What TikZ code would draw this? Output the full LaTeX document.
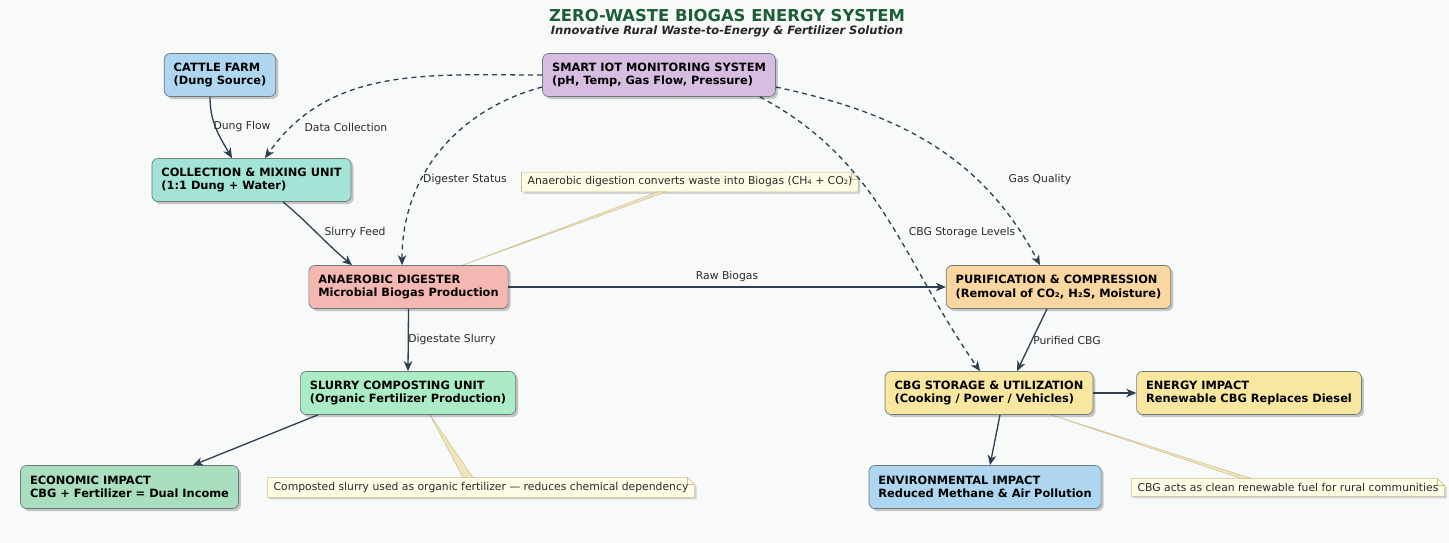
\documentclass[tikz,border=0pt]{standalone}
\usepackage{fontspec}
\setmainfont{DejaVu Sans}
\usetikzlibrary{arrows.meta,shadows,backgrounds}

\definecolor{pagebg}{HTML}{F8FAFA}
\definecolor{titlegreen}{HTML}{1D5E36}
\definecolor{edgecol}{HTML}{2C3E50}
\definecolor{boxline}{HTML}{6E7B7C}
\definecolor{labeltext}{HTML}{2B2B2B}
\definecolor{notefill}{HTML}{FFFCE6}
\definecolor{noteline}{HTML}{CDBE8C}
\definecolor{wedgecol}{HTML}{EFE6BE}
\definecolor{farmblue}{HTML}{AED6F1}
\definecolor{iotpurple}{HTML}{D7BDE2}
\definecolor{mixteal}{HTML}{A3E4D7}
\definecolor{digred}{HTML}{F5B7B1}
\definecolor{purorange}{HTML}{FAD7A0}
\definecolor{slurrygreen}{HTML}{ABEBC6}
\definecolor{cbgyellow}{HTML}{F9E79F}
\definecolor{econgreen}{HTML}{A9DFBF}

\tikzset{
  box/.style={draw=boxline, line width=0.7pt, rounded corners=6pt, align=left,
    font=\bfseries\fontsize{11.4}{13.5}\selectfont, inner xsep=9.5pt, inner ysep=6pt,
    minimum height=43pt,
    drop shadow={shadow xshift=2.5pt, shadow yshift=-2.5pt, opacity=0.3, fill=black!70}},
  flow/.style={draw=edgecol, line width=1.3pt, -{Stealth[length=10pt,width=8.5pt,inset=3pt]}},
  monitor/.style={flow, dash pattern=on 5pt off 4pt},
  lbl/.style={font=\fontsize{10.8}{12}\selectfont, text=labeltext, inner sep=1pt},
  note/.style={font=\fontsize{10.8}{12}\selectfont, text=labeltext, inner xsep=6pt, inner ysep=4.5pt},
  notepath/.style={fill=notefill, draw=noteline, line width=0.6pt,
    drop shadow={shadow xshift=2pt, shadow yshift=-2pt, opacity=0.25, fill=black!60}},
  wedge/.style={fill=wedgecol, draw=noteline, line width=0.5pt}
}

% note outline with folded corner
\newcommand{\drawnote}[1]{%
  \path[notepath] (#1.south west) -- (#1.south east) -- ([yshift=-7pt]#1.north east)
    -- ([xshift=-7pt]#1.north east) -- (#1.north west) -- cycle;
  \draw[noteline, line width=0.6pt] ([xshift=-7pt]#1.north east) |- ([yshift=-7pt]#1.north east);}

\begin{document}
\begin{tikzpicture}[x=1pt, y=-1pt]

% title
\node[font=\bfseries\fontsize{16.4}{18}\selectfont, text=titlegreen] (title) at (727,16) {ZERO-WASTE BIOGAS ENERGY SYSTEM};
\node[font=\bfseries\itshape\fontsize{11.5}{13}\selectfont, text=black!85] (subtitle) at (727,31) {Innovative Rural Waste-to-Energy \& Fertilizer Solution};

% units
\node[box, fill=farmblue] (farm) at (220,75) {CATTLE FARM\\(Dung Source)};
\node[box, fill=iotpurple] (iot) at (659,75) {SMART IOT MONITORING SYSTEM\\(pH, Temp, Gas Flow, Pressure)};
\node[box, fill=mixteal] (mix) at (251.5,180) {COLLECTION \& MIXING UNIT\\(1:1 Dung + Water)};
\node[box, fill=digred] (dig) at (408.5,287) {ANAEROBIC DIGESTER\\Microbial Biogas Production};
\node[box, fill=purorange] (pur) at (1058.5,287) {PURIFICATION \& COMPRESSION\\(Removal of CO₂, H₂S, Moisture)};
\node[box, fill=slurrygreen] (slurry) at (408,393) {SLURRY COMPOSTING UNIT\\(Organic Fertilizer Production)};
\node[box, fill=cbgyellow] (cbg) at (989,393) {CBG STORAGE \& UTILIZATION\\(Cooking / Power / Vehicles)};
\node[box, fill=cbgyellow] (energy) at (1249,393) {ENERGY IMPACT\\Renewable CBG Replaces Diesel};
\node[box, fill=econgreen] (econ) at (129.5,487) {ECONOMIC IMPACT\\CBG + Fertilizer = Dual Income};
\node[box, fill=farmblue] (env) at (985,487) {ENVIRONMENTAL IMPACT\\Reduced Methane \& Air Pollution};

% notes
\node[note] (digNote) at (690,182) {Anaerobic digestion converts waste into Biogas (CH₄ + CO₂)};
\node[note] (slurryNote) at (481,487.5) {Composted slurry used as organic fertilizer — reduces chemical dependency};
\node[note] (cbgNote) at (1288,487.5) {CBG acts as clean renewable fuel for rural communities};

\begin{scope}[on background layer]
  \fill[pagebg] (0,0) rectangle (1449,543);
  \drawnote{digNote}
  \drawnote{slurryNote}
  \drawnote{cbgNote}
  \path[wedge] ([xshift=54pt]dig.north) -- ([xshift=-32pt]digNote.south) -- ([xshift=-24pt]digNote.south) -- cycle;
  \path[wedge] ([xshift=22pt]slurry.south) -- ([xshift=-18pt]slurryNote.north) -- ([xshift=-8pt]slurryNote.north) -- cycle;
  \path[wedge] ([xshift=62pt]cbg.south) -- ([xshift=-46pt]cbgNote.north) -- ([xshift=-36pt]cbgNote.north) -- cycle;
\end{scope}

% material flow
\draw[flow] ([xshift=-10pt]farm.south) to[out=-90, in=120] ([xshift=-19.5pt]mix.north);
\draw[flow] ([xshift=31.5pt]mix.south) to[out=-40, in=140] ([xshift=-56.5pt]dig.north);
\draw[flow] (dig.east) -- (pur.west);
\draw[flow] (dig.south) -- (slurry.north);
\draw[flow] ([xshift=-11.5pt]pur.south) -- ([xshift=28pt]cbg.north);
\draw[flow] ([xshift=-90pt]slurry.south) -- ([xshift=63.5pt]econ.north);
\draw[flow] (cbg.east) -- (energy.west);
\draw[flow] ([xshift=11pt]cbg.south) -- ([xshift=5pt]env.north);

% monitoring links
\draw[monitor] (iot.west) to[out=180, in=55] ([xshift=13.5pt]mix.north);
\draw[monitor] ([yshift=-12pt]iot.west) to[out=195, in=90] ([xshift=-6.5pt]dig.north);
\draw[monitor] ([yshift=-12pt]iot.east) to[out=-12, in=118] ([xshift=-18.5pt]pur.north);
\draw[monitor] ([xshift=-16pt]iot.south east) to[out=-28, in=125] ([xshift=-9pt]cbg.north);

% edge labels
\node[lbl] (lDung) at (242,127) {Dung Flow};
\node[lbl] (lData) at (346,127) {Data Collection};
\node[lbl] (lStatus) at (465,180) {Digester Status};
\node[lbl] (lFeed) at (355,233) {Slurry Feed};
\node[lbl] (lRaw) at (727,277) {Raw Biogas};
\node[lbl] (lQuality) at (1040,180) {Gas Quality};
\node[lbl] (lLevels) at (962,233) {CBG Storage Levels};
\node[lbl] (lDigestate) at (452,340) {Digestate Slurry};
\node[lbl] (lPurified) at (1067,340) {Purified CBG};

\end{tikzpicture}
\end{document}
